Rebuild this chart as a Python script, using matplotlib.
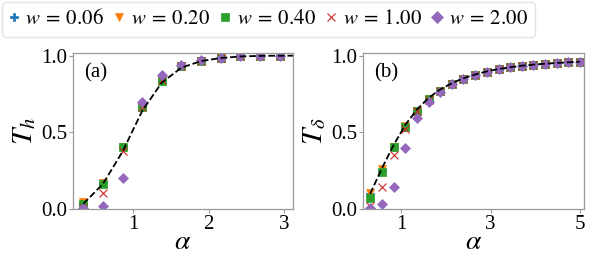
import matplotlib
matplotlib.use('Agg')
import matplotlib.pyplot as plt

plt.rcParams['font.family'] = ['Liberation Serif', 'DejaVu Serif']
plt.rcParams['mathtext.fontset'] = 'stix'

# panel (a)
xa = [0.34, 0.60, 0.86, 1.12, 1.38, 1.64, 1.90, 2.16, 2.42, 2.68, 2.94]
ya = {
    0.06: [0.040, 0.170, 0.405, 0.665, 0.838, 0.935, 0.968, 0.987, 0.998, 1.0, 1.0],
    0.20: [0.045, 0.172, 0.408, 0.668, 0.840, 0.935, 0.968, 0.987, 0.998, 1.0, 1.0],
    0.40: [0.035, 0.163, 0.405, 0.665, 0.835, 0.933, 0.967, 0.987, 0.998, 1.0, 1.0],
    1.00: [0.010, 0.104, 0.378, 0.665, 0.840, 0.935, 0.968, 0.987, 0.998, 1.0, 1.0],
    2.00: [0.005, 0.022, 0.205, 0.696, 0.872, 0.940, 0.970, 0.988, 0.998, 1.0, 1.0],
}
line_xa = [0.34, 0.60, 0.86, 1.12, 1.38, 1.64, 1.90, 2.16, 2.42, 2.68, 2.94, 3.2]
line_ya = [0.035, 0.165, 0.375, 0.640, 0.825, 0.922, 0.965, 0.985, 0.995, 0.999, 1.0, 1.0]

# panel (b)
xb = [0.30, 0.57, 0.83, 1.09, 1.35, 1.61, 1.87, 2.13, 2.39, 2.66, 2.92, 3.18,
      3.44, 3.70, 3.96, 4.22, 4.48, 4.74, 5.00]
tail = [0.770, 0.813, 0.850, 0.876, 0.896, 0.911, 0.924, 0.935, 0.941, 0.948, 0.952, 0.957, 0.961]
yb = {
    0.06: [0.100, 0.255, 0.405, 0.538, 0.640, 0.716] + tail,
    0.20: [0.105, 0.262, 0.408, 0.540, 0.642, 0.718] + tail,
    0.40: [0.076, 0.240, 0.405, 0.538, 0.640, 0.716] + tail,
    1.00: [0.024, 0.143, 0.354, 0.520, 0.638, 0.714] + tail,
    2.00: [0.010, 0.033, 0.148, 0.397, 0.592, 0.700, 0.766] + tail[1:],
}
line_xb = [0.30, 0.57, 0.83, 1.09, 1.35, 1.61, 1.87, 2.13, 2.39, 2.66, 2.92, 3.18,
           3.44, 3.70, 3.96, 4.22, 4.48, 4.74, 5.00]
line_yb = [0.100, 0.270, 0.420, 0.550, 0.650, 0.725, 0.780, 0.820, 0.853, 0.878, 0.898,
           0.913, 0.925, 0.935, 0.942, 0.948, 0.953, 0.957, 0.961]

ws = [0.06, 0.20, 0.40, 1.00, 2.00]
markers = ['P', 'v', 's', 'x', 'D']
colors = ['tab:blue', 'tab:orange', 'tab:green', 'tab:red', 'tab:purple']

fig = plt.figure(figsize=(5.98, 2.58), dpi=100)
ax1 = fig.add_axes([0.1216, 0.189, 0.368, 0.607])
ax2 = fig.add_axes([0.607, 0.189, 0.370, 0.607])

handles = []
for ax, xs, ys in [(ax1, xa, ya), (ax2, xb, yb)]:
    for w, m, c in zip(ws, markers, colors):
        h, = ax.plot(xs, ys[w], m, color=c, ms=5.5, mew=0.8 if m == 'x' else 0.5,
                     linestyle='none', label=r'$w\:=\:%.2f$' % w)
        if ax is ax1:
            handles.append(h)

ax1.plot(line_xa, line_ya, '--', color='black', lw=1.3)
ax2.plot(line_xb, line_yb, '--', color='black', lw=1.3)

ax1.set_xlim(0.2, 3.115)
ax2.set_xlim(0.14, 5.1)
for ax in (ax1, ax2):
    ax.set_ylim(0, 1.02)
    ax.set_yticks([0, 0.5, 1.0])
    ax.set_yticklabels(['0.0', '0.5', '1.0'])
    for s in ax.spines.values():
        s.set_color('#999999')
        s.set_linewidth(0.9)
    ax.tick_params(colors='#999999', labelcolor='black', labelsize=15, length=3, pad=1)
    ax.set_xlabel(r'$\alpha$', fontsize=20, labelpad=-3)

ax1.set_xticks([1, 2, 3])
ax2.set_xticks([1, 3, 5])
ax1.set_ylabel(r'$T_h$', fontsize=21, labelpad=2)
ax2.set_ylabel(r'$T_\delta$', fontsize=21, labelpad=2)
ax1.text(0.05, 0.93, '(a)', transform=ax1.transAxes, fontsize=15, va='top')
ax2.text(0.05, 0.93, '(b)', transform=ax2.transAxes, fontsize=15, va='top')

fig.legend(handles=handles, loc='upper left', bbox_to_anchor=(0.0, 1.0), ncol=5,
           fontsize=15, markerscale=1.15, handlelength=0.4, handletextpad=0.35,
           columnspacing=0.55, borderpad=0.35, borderaxespad=0.1, fancybox=True,
           edgecolor='#dddddd')

plt.savefig('out.png', dpi=100)
